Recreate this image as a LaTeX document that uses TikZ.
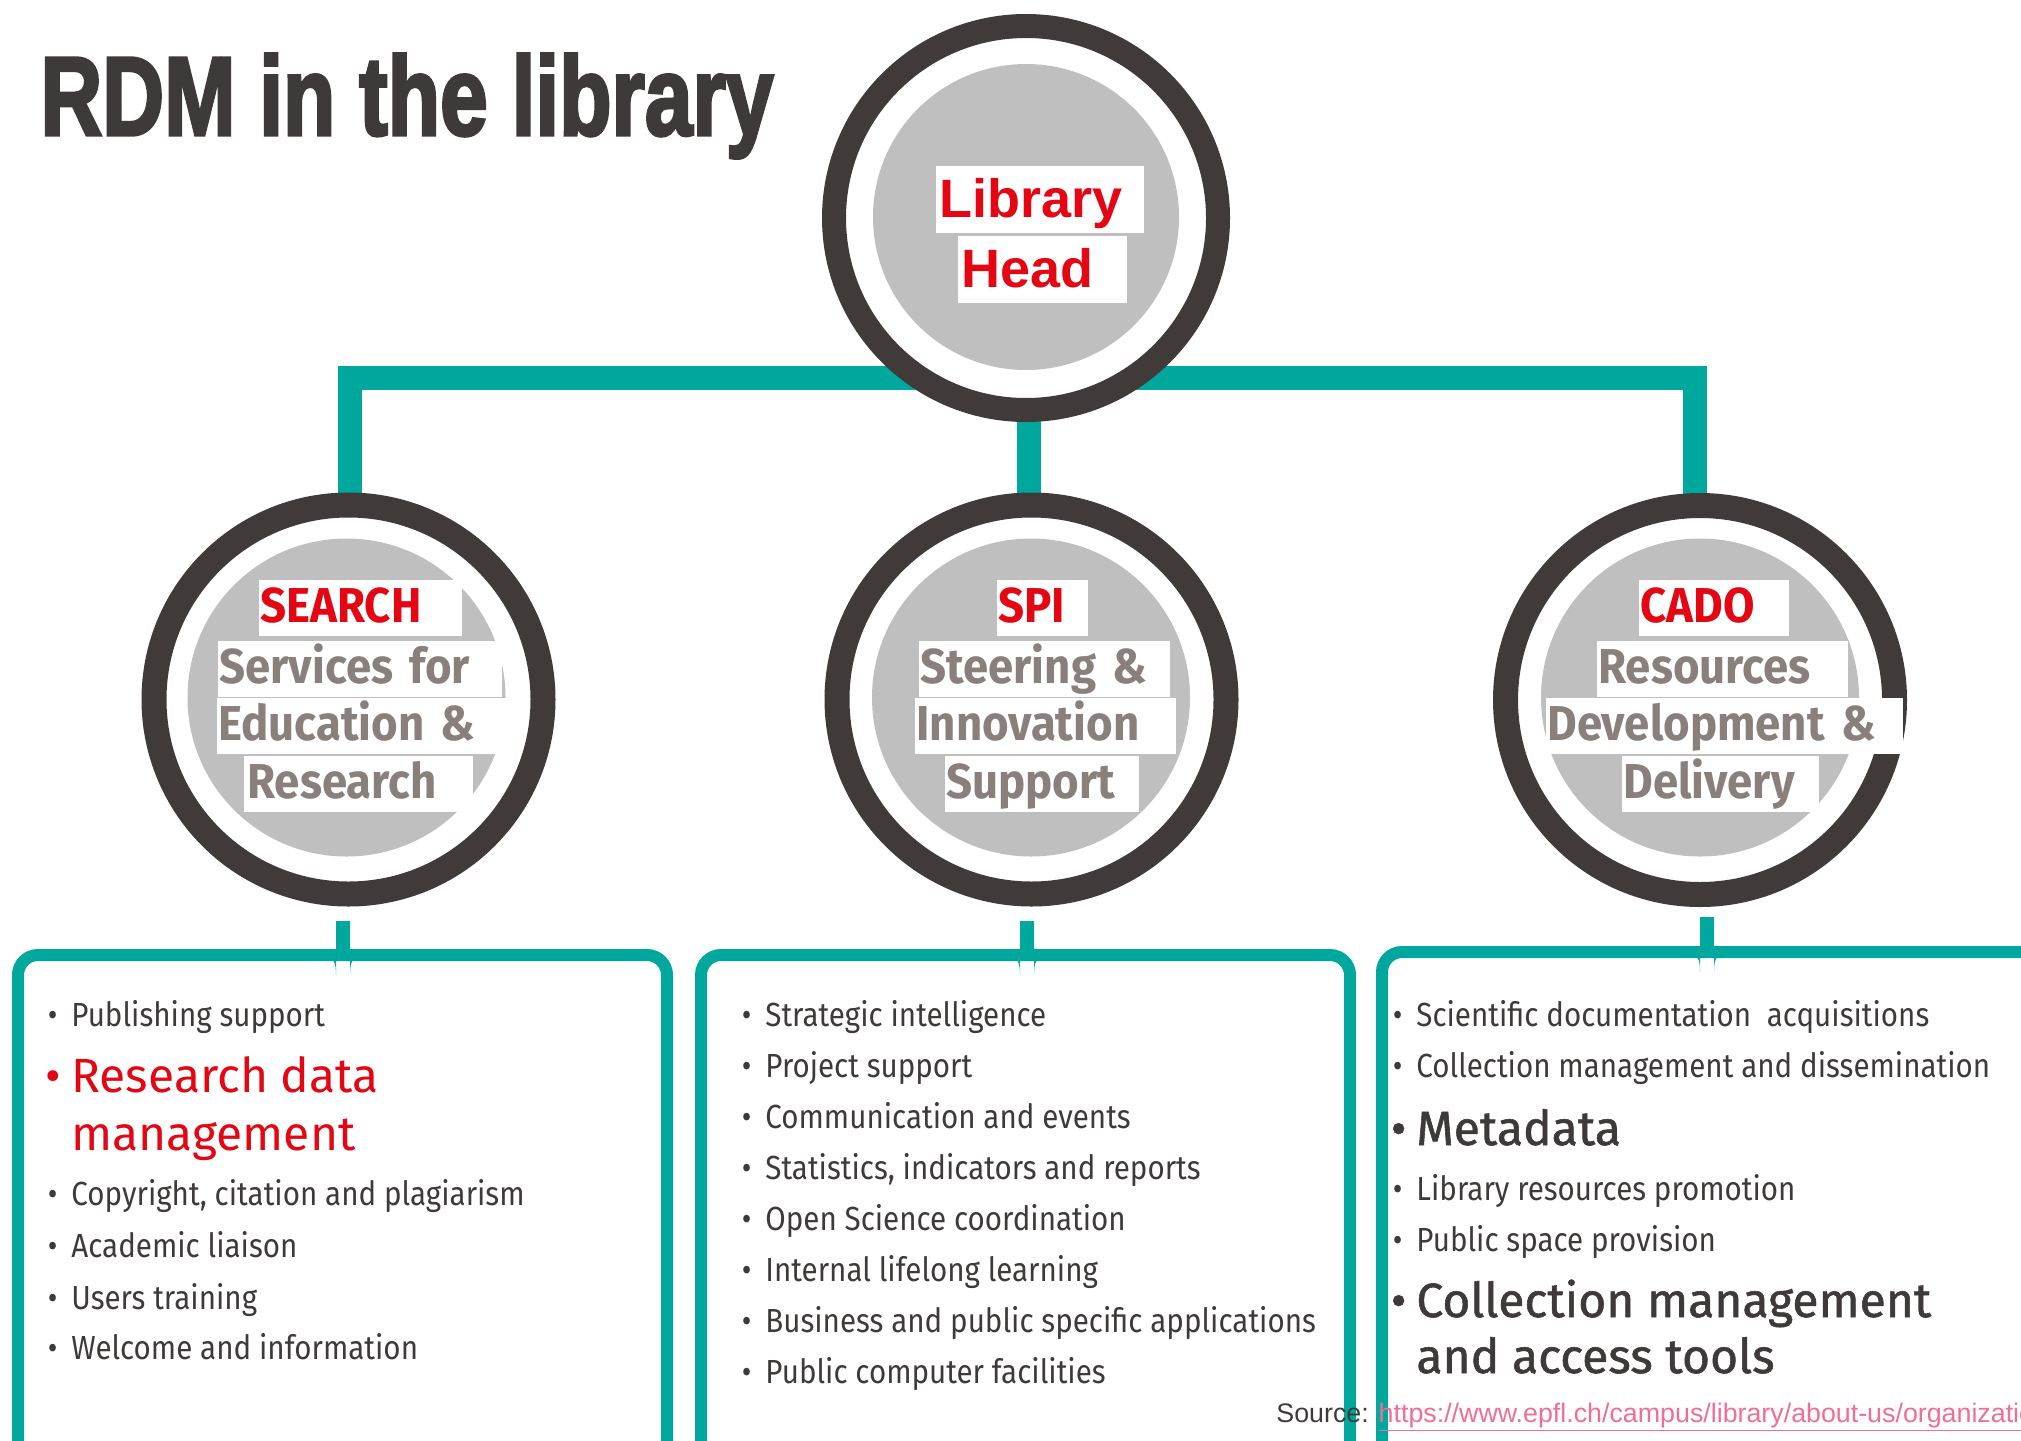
\documentclass[tikz,border=0pt]{standalone}
\usepackage{fontspec}
\usepackage{graphicx}
\setmainfont{Fira Sans}
\newfontfamily\listfont[FakeStretch=0.885]{Fira Sans}
\newfontfamily\bigfont{Fira Sans}
\newfontfamily\medfont[FakeBold=1.2]{Fira Sans}
\newfontfamily\labfont[FakeStretch=0.93]{Fira Sans}
\newfontfamily\arialfont{Liberation Sans}
\newfontfamily\titlefont[FakeBold=3]{Liberation Sans}
\definecolor{tealc}{RGB}{0,167,157}
\definecolor{ringc}{RGB}{64,59,57}
\definecolor{discc}{RGB}{191,191,191}
\definecolor{redc}{RGB}{228,6,19}
\definecolor{labgray}{RGB}{137,128,124}
\definecolor{textdark}{RGB}{62,58,57}
\definecolor{linkc}{RGB}{240,110,150}
\pgfdeclarelayer{bg}
\pgfsetlayers{bg,main}
\tikzset{
  ringtop/.style={circle, draw=ringc, fill=white, line width=12pt, minimum size=192pt, inner sep=0pt, outer sep=0pt},
  ringlow/.style={circle, draw=ringc, fill=white, line width=12.5pt, minimum size=194.5pt, inner sep=0pt, outer sep=0pt},
  disc/.style={circle, fill=discc, inner sep=0pt, outer sep=0pt, minimum size=#1},
  tealbar/.style={draw=tealc, line width=12pt},
  bracket/.style={draw=tealc, line width=6pt, rounded corners=10pt},
  lbl/.style={fill=white, anchor=north west, inner xsep=0.5pt, inner ysep=0pt, text height=21pt, text depth=7pt, align=left, font=\labfont\bfseries\fontsize{24.5}{28}\selectfont},
  redlbl/.style={lbl, text=redc},
  graylbl/.style={lbl, text=labgray},
  headlbl/.style={fill=white, anchor=north west, inner xsep=1.5pt, inner ysep=0pt, text height=25.5pt, text depth=8pt, align=left, text=redc, font=\arialfont\bfseries\fontsize{27}{30}\selectfont},
  itm/.style={anchor=base west, inner sep=0pt, text=textdark, font=\listfont\fontsize{16.7}{20}\selectfont},
  bigitm/.style={anchor=base west, inner sep=0pt, font=\bigfont\fontsize{24}{29}\selectfont},
}
\newcommand\bul{\llap{\textbullet\hspace{7pt}}}
\newcommand\bigbul{\llap{\textbullet\hspace{5pt}}}
\begin{document}
\begin{tikzpicture}[x=0.5pt,y=-0.5pt]
\useasboundingbox (0,0) rectangle (2021,1440);
\clip (0,0) rectangle (2021,1440);

% title
\node[anchor=base west, inner sep=0pt, text=textdark] (title) at (40,135)
  {\scalebox{0.765}[1]{\titlefont\bfseries\fontsize{56}{60}\selectfont RDM in the library}};

% circles
\node[ringtop] (head) at (1026,218) {};
\node[disc=153pt] (headin) at (1026,217) {};
\node[ringlow] (search) at (348.5,699.5) {};
\node[disc=159pt] (searchin) at (346.5,697.5) {};
\node[ringlow] (spi) at (1031.5,699.5) {};
\node[disc=159pt] (spiin) at (1031,697.5) {};
\node[ringlow] (cado) at (1700,700) {};
\node[disc=159pt] (cadoin) at (1700,697.5) {};

% top connectors
\coordinate (jl) at (350,378);
\coordinate (jm) at (1028.5,378);
\coordinate (jr) at (1695,378);
\begin{pgfonlayer}{bg}
\draw[tealbar] (jl |- search.center) -- (jl) -- (jr) -- (jr |- cado.center);
\draw[tealbar] (jm) -- (jm |- spi.center);
\end{pgfonlayer}

% labels head
\node[headlbl, text width=101pt] (lib1) at (936,166) {Library};
\node[headlbl, text width=81.5pt] (lib2) at (958,236) {Head};

% SEARCH labels
\node[redlbl, text width=100.5pt] (s1) at (259,580) {SEARCH};
\node[graylbl, text width=141pt] (s2) at (218,641) {Services for};
\node[graylbl, text width=143.5pt] (s3) at (217,698) {Education \&};
\node[graylbl, text width=113.5pt] (s4) at (244,756) {\hspace{1pt}Research};

% SPI labels
\node[redlbl, text width=44.5pt] (p1) at (997,580) {SPI};
\node[graylbl, text width=124.5pt] (p2) at (919,641) {Steering \&};
\node[graylbl, text width=129.5pt] (p3) at (915,698) {Innovation};
\node[graylbl, text width=96pt] (p4) at (945,756) {Support};

% CADO labels
\node[redlbl, text width=74pt] (c1) at (1639,580) {CADO};
\node[graylbl, text width=124.5pt] (c2) at (1597,641) {Resources};
\node[graylbl, text width=177.5pt] (c3) at (1546,698) {Development \&};
\node[graylbl, text width=97.5pt] (c4) at (1622,756) {Delivery};

% lower brackets
\coordinate (sl) at (343,921);
\coordinate (sm) at (1027,921);
\coordinate (sr) at (1707,917);
\draw[bracket] (18,1460) -- (18,955) -- (667,955) -- (667,1460);
\draw[bracket] (701,1460) -- (701,955) -- (1350,955) -- (1350,1460);
\draw[bracket] (1382,1460) -- (1382,952) -- (2060,952);
\foreach \s/\b in {sl/955, sm/955, sr/952}{
  \fill[tealc] ([xshift=-3.5pt]\s) -- ([xshift=3.5pt]\s) -- ([xshift=3.5pt,yshift=-10pt]\s |- 0,\b)
    .. controls ([xshift=3.5pt,yshift=-3pt]\s |- 0,\b) and ([xshift=5pt,yshift=-1.5pt]\s |- 0,\b) .. ([xshift=8pt,yshift=-1.5pt]\s |- 0,\b)
    -- ([xshift=-8pt,yshift=-1.5pt]\s |- 0,\b)
    .. controls ([xshift=-5pt,yshift=-1.5pt]\s |- 0,\b) and ([xshift=-3.5pt,yshift=-3pt]\s |- 0,\b) .. ([xshift=-3.5pt,yshift=-10pt]\s |- 0,\b)
    -- cycle;
}

% left list
\node[itm] (l1) at (71,1026) {\bul Publishing support};
\node[bigitm, text=redc] (l2) at (71,1092) {\bigbul Research data};
\node[bigitm, text=redc] (l2b) at (71,1150) {management};
\node[itm] (l3) at (71,1205) {\bul Copyright, citation and plagiarism};
\node[itm] (l4) at (71,1257) {\bul Academic liaison};
\node[itm] (l5) at (71,1309) {\bul Users training};
\node[itm] (l6) at (71,1359) {\bul Welcome and information};

% middle list
\node[itm] (m1) at (765,1026) {\bul Strategic intelligence};
\node[itm] (m2) at (765,1077) {\bul Project support};
\node[itm] (m3) at (765,1128) {\bul Communication and events};
\node[itm] (m4) at (765,1179) {\bul Statistics, indicators and reports};
\node[itm] (m5) at (765,1230) {\bul Open Science coordination};
\node[itm] (m6) at (765,1281) {\bul Internal lifelong learning};
\node[itm] (m7) at (765,1332) {\bul Business and public specific applications};
\node[itm] (m8) at (765,1383) {\bul Public computer facilities};

% right list
\node[itm] (r1) at (1416,1026) {\bul Scientific documentation~ acquisitions};
\node[itm] (r2) at (1416,1077) {\bul Collection management and dissemination};
\node[bigitm, text=textdark, font=\medfont\fontsize{24}{29}\selectfont] (r3) at (1416,1145) {\bigbul Metadata};
\node[itm] (r4) at (1416,1200) {\bul Library resources promotion};
\node[itm] (r5) at (1416,1251) {\bul Public space provision};
\node[bigitm, text=textdark, font=\medfont\fontsize{24}{29}\selectfont] (r6) at (1416,1317) {\bigbul Collection management};
\node[bigitm, text=textdark, font=\medfont\fontsize{24}{29}\selectfont] (r6b) at (1416,1373) {and access tools};

% source
\node[anchor=base west, inner sep=0pt, font=\arialfont\fontsize{13.4}{15}\selectfont, text=textdark] (src) at (1276,1422)
  {Source: \textcolor{linkc}{\underline{https://www.epfl.ch/campus/library/about-us/organization}}};
\end{tikzpicture}
\end{document}
